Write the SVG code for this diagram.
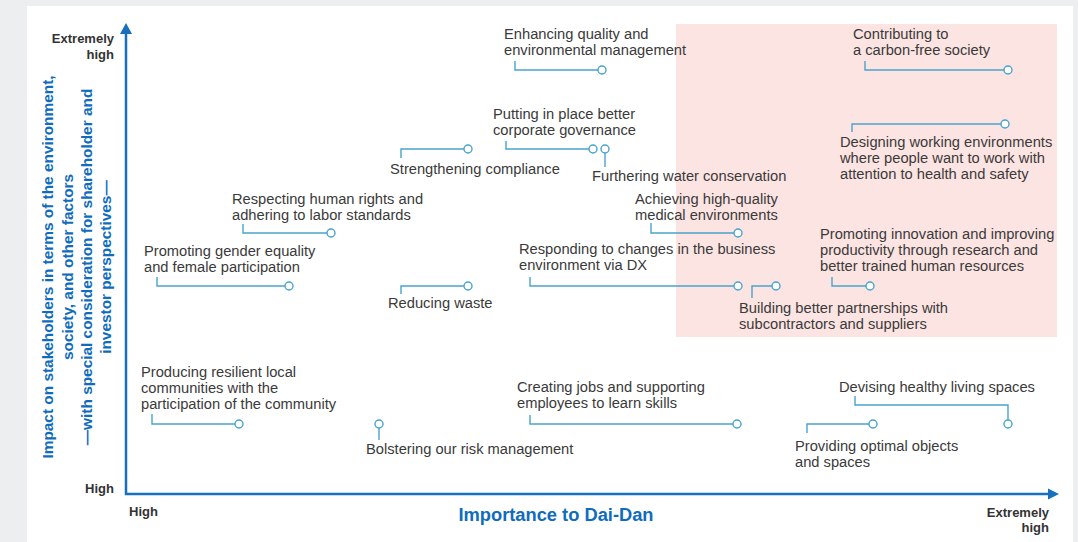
<svg xmlns="http://www.w3.org/2000/svg" width="1078" height="542" viewBox="0 0 1078 542">
<style>
.t{font-family:"Liberation Sans",Arial,sans-serif;font-size:14.7px;fill:#3a3a3a}
.b{font-family:"Liberation Sans",Arial,sans-serif;font-size:13px;font-weight:bold;fill:#333}
.ax{font-family:"Liberation Sans",Arial,sans-serif;font-weight:bold;fill:#0f6cbd}
.c{fill:none;stroke:#4aa3cc;stroke-width:1.4}
.p{fill:#fff;stroke:#4aa3cc;stroke-width:1.4}
.axis{stroke:#1570bd;stroke-width:2.5;fill:none}
</style>
<rect x="0" y="0" width="1078" height="542" fill="#eceef0"/>
<rect x="27" y="6" width="1046" height="536" fill="#fff"/>
<rect x="676" y="24" width="381" height="313" fill="#fce4e2"/>
<g id="axes">
<path class="axis" d="M126,33 V494 H1049"/>
<polygon points="126,23 120,34 132,34" fill="#1570bd"/>
<polygon points="1059,494 1048,488.5 1048,499.5" fill="#1570bd"/>
<text class="b" x="114" y="43" text-anchor="end">Extremely</text>
<text class="b" x="114" y="59" text-anchor="end">high</text>
<text class="b" x="114" y="493" text-anchor="end">High</text>
<text class="b" x="129" y="516">High</text>
<text class="b" x="1049" y="517" text-anchor="end">Extremely</text>
<text class="b" x="1049" y="532" text-anchor="end">high</text>
<text class="ax" x="556" y="521" text-anchor="middle" font-size="18.3">Importance to Dai-Dan</text>
<g transform="translate(0,267) rotate(-90)" class="ax" font-size="15.4" text-anchor="middle">
<text x="0" y="53">Impact on stakeholders in terms of the environment,</text>
<text x="0" y="73">society, and other factors</text>
<text x="0" y="92">—with special consideration for shareholder and</text>
<text x="0" y="111">investor perspectives—</text>
</g>
</g>
<g id="connectors">
<path class="c" d="M515,61 V70 H602"/>
<path class="c" d="M865,61 V70 H1008"/>
<path class="c" d="M506,141 V149 H593"/>
<path class="c" d="M605,149 V167"/>
<path class="c" d="M401,158 V149 H468"/>
<path class="c" d="M852,132 V124 H1005"/>
<path class="c" d="M243,224 V233 H331"/>
<path class="c" d="M157,277 V286 H289"/>
<path class="c" d="M651,223 V233 H738"/>
<path class="c" d="M530,277 V286 H738"/>
<path class="c" d="M401,294 V286 H468"/>
<path class="c" d="M832,277 V286 H870"/>
<path class="c" d="M752,298 V286 H776"/>
<path class="c" d="M152,414 V424 H239"/>
<path class="c" d="M379,424 V440"/>
<path class="c" d="M530,415 V424 H737"/>
<path class="c" d="M855,396 V405 H1008 V424"/>
<path class="c" d="M807,433 V424 H873"/>
</g>
<g id="n1"><circle class="p" cx="602" cy="70" r="4"/><text class="t" x="504" y="39">Enhancing quality and</text><text class="t" x="504" y="55">environmental management</text></g>
<g id="n2"><circle class="p" cx="1008" cy="70" r="4"/><text class="t" x="853" y="39">Contributing to</text><text class="t" x="853" y="55">a carbon-free society</text></g>
<g id="n3"><circle class="p" cx="593" cy="149" r="4"/><text class="t" x="493" y="119">Putting in place better</text><text class="t" x="493" y="135">corporate governance</text></g>
<g id="n4"><circle class="p" cx="605" cy="149" r="4"/><text class="t" x="592" y="181">Furthering water conservation</text></g>
<g id="n5"><circle class="p" cx="468" cy="149" r="4"/><text class="t" x="390" y="174">Strengthening compliance</text></g>
<g id="n6"><circle class="p" cx="1005" cy="124" r="4"/><text class="t" x="840" y="147">Designing working environments</text><text class="t" x="840" y="163">where people want to work with</text><text class="t" x="840" y="179">attention to health and safety</text></g>
<g id="n7"><circle class="p" cx="331" cy="233" r="4"/><text class="t" x="232" y="204">Respecting human rights and</text><text class="t" x="232" y="220">adhering to labor standards</text></g>
<g id="n8"><circle class="p" cx="289" cy="286" r="4"/><text class="t" x="144" y="256">Promoting gender equality</text><text class="t" x="144" y="272">and female participation</text></g>
<g id="n9"><circle class="p" cx="738" cy="233" r="4"/><text class="t" x="635" y="204">Achieving high-quality</text><text class="t" x="635" y="220">medical environments</text></g>
<g id="n10"><circle class="p" cx="738" cy="286" r="4"/><text class="t" x="519" y="254">Responding to changes in the business</text><text class="t" x="519" y="270">environment via DX</text></g>
<g id="n11"><circle class="p" cx="468" cy="286" r="4"/><text class="t" x="388" y="308">Reducing waste</text></g>
<g id="n12"><circle class="p" cx="870" cy="286" r="4"/><text class="t" x="820" y="239">Promoting innovation and improving</text><text class="t" x="820" y="255">productivity through research and</text><text class="t" x="820" y="271">better trained human resources</text></g>
<g id="n13"><circle class="p" cx="776" cy="286" r="4"/><text class="t" x="739" y="313">Building better partnerships with</text><text class="t" x="739" y="329">subcontractors and suppliers</text></g>
<g id="n14"><circle class="p" cx="239" cy="424" r="4"/><text class="t" x="141" y="377">Producing resilient local</text><text class="t" x="141" y="393">communities with the</text><text class="t" x="141" y="409">participation of the community</text></g>
<g id="n15"><circle class="p" cx="379" cy="424" r="4"/><text class="t" x="366" y="454">Bolstering our risk management</text></g>
<g id="n16"><circle class="p" cx="737" cy="424" r="4"/><text class="t" x="517" y="392">Creating jobs and supporting</text><text class="t" x="517" y="408">employees to learn skills</text></g>
<g id="n17"><circle class="p" cx="1008" cy="424" r="4"/><text class="t" x="839" y="392">Devising healthy living spaces</text></g>
<g id="n18"><circle class="p" cx="873" cy="424" r="4"/><text class="t" x="795" y="451">Providing optimal objects</text><text class="t" x="795" y="467">and spaces</text></g>
</svg>
